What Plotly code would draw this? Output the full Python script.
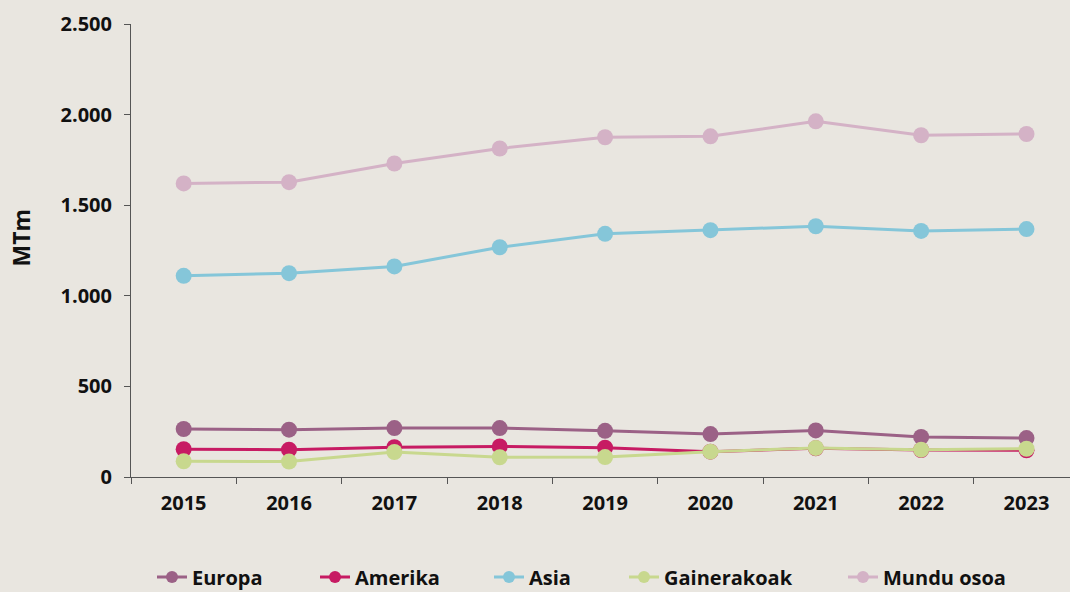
import plotly.graph_objects as go

years = ["2015", "2016", "2017", "2018", "2019", "2020", "2021", "2022", "2023"]
europa = [265, 261, 270, 270, 255, 237, 257, 221, 215]
amerika = [153, 151, 164, 169, 162, 140, 158, 149, 147]
asia = [1110, 1125, 1162, 1268, 1342, 1362, 1384, 1358, 1368]
gainerakoak = [87, 85, 138, 109, 110, 140, 160, 151, 156]
mundu_osoa = [1620, 1627, 1730, 1813, 1875, 1880, 1963, 1886, 1893]

series = [
    ("Europa", europa, "#9b6186"),
    ("Amerika", amerika, "#c71b63"),
    ("Asia", asia, "#85c6d9"),
    ("Gainerakoak", gainerakoak, "#c8d88e"),
    ("Mundu osoa", mundu_osoa, "#d4b2c6"),
]

FONT = "Open Sans"
BG = "#e9e6e0"
TXT = "#111111"
W, H = 1070, 592
L, T, B = 131, 24, 115
PLOT_W, PLOT_H = W - L, H - T - B

# left edge (px) of each legend entry along the bottom row
legend_px = [152, 315, 489, 624, 843]
legend_keys = ["legend", "legend2", "legend3", "legend4", "legend5"]

fig = go.Figure()
for (name, vals, color), key in zip(series, legend_keys):
    fig.add_trace(go.Scatter(
        x=years, y=vals, name=name, mode="lines+markers",
        line=dict(color=color, width=3),
        marker=dict(color=color, size=16),
        hoverinfo="skip", showlegend=False,
    ))
    # legend entry with a smaller marker than the plotted points
    fig.add_trace(go.Scatter(
        x=[None], y=[None], name=name, mode="lines+markers",
        line=dict(color=color, width=3),
        marker=dict(color=color, size=12),
        hoverinfo="skip", legend=key,
    ))

legend_layout = {}
for key, px in zip(legend_keys, legend_px):
    legend_layout[key] = dict(
        orientation="h", xref="container", yref="container",
        x=px / W, xanchor="left", y=(H - 577) / H, yanchor="middle",
        font=dict(family=FONT, size=20, weight="bold", color=TXT),
        bgcolor="rgba(0,0,0,0)",
    )

fig.update_layout(
    width=W, height=H,
    paper_bgcolor=BG, plot_bgcolor=BG,
    margin=dict(l=L, r=0, t=T, b=B, autoexpand=False),
    font=dict(family=FONT, size=20, color=TXT, weight="bold"),
    showlegend=True,
    xaxis=dict(
        type="category", range=[-0.5, 8.413],
        showline=True, linecolor="#555555", linewidth=1,
        ticks="outside", ticklen=6, tickcolor="#555555", tickson="boundaries",
        ticklabelstandoff=8,
        showgrid=False, zeroline=False,
        tickfont=dict(family=FONT, size=20, weight="bold", color=TXT),
    ),
    yaxis=dict(
        range=[0, 2500], tickvals=[0, 500, 1000, 1500, 2000, 2500],
        ticktext=["0", "500", "1.000", "1.500", "2.000", "2.500"],
        showline=True, linecolor="#555555", linewidth=1,
        ticks="outside", ticklen=6, tickcolor="#555555",
        ticklabelstandoff=8,
        showgrid=False, zeroline=False,
        tickfont=dict(family=FONT, size=20, weight="bold", color=TXT),
    ),
    annotations=[dict(
        text="MTm", xref="paper", yref="paper",
        x=(20.5 - L) / PLOT_W, y=(H - B - 238) / PLOT_H,
        xanchor="center", yanchor="middle", showarrow=False, textangle=-90,
        font=dict(family=FONT, size=23, weight="bold", color=TXT),
    )],
    **legend_layout,
)

fig.write_html("out.html")
